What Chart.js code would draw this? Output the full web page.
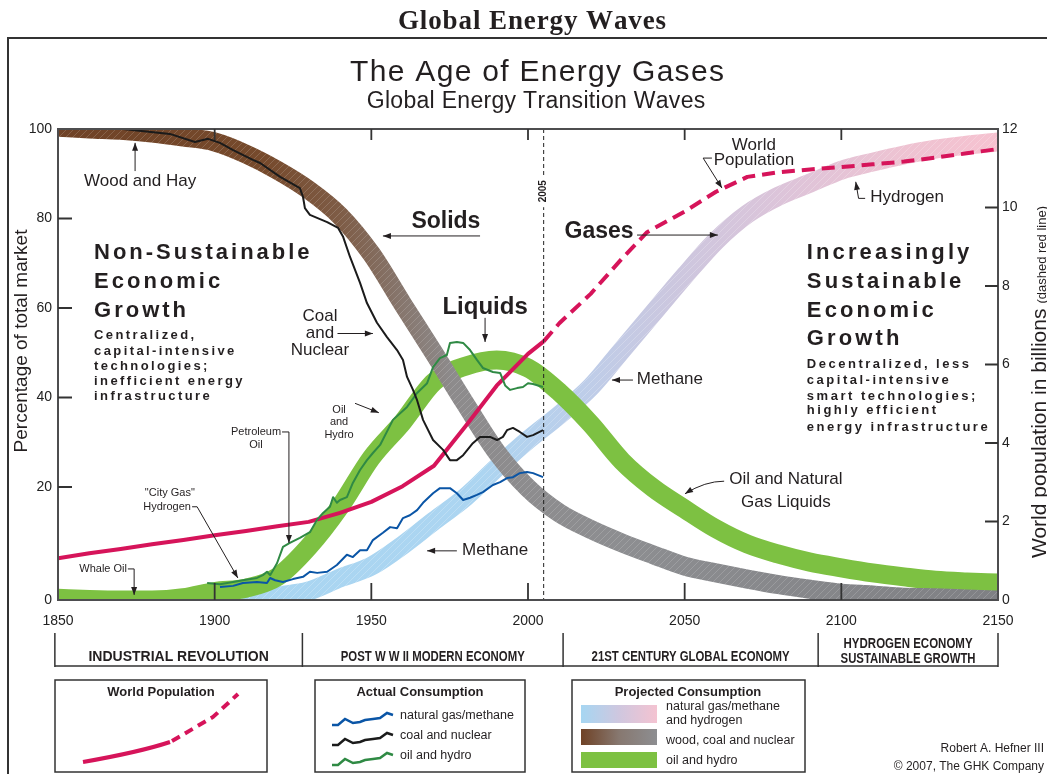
<!DOCTYPE html>
<html>
<head>
<meta charset="utf-8">
<title>Global Energy Waves</title>
<script src="https://cdn.jsdelivr.net/npm/chart.js@4.4.1/dist/chart.umd.min.js"></script>
<style>
  html, body { margin: 0; padding: 0; background: #fff; }
  #wrap { position: relative; width: 1047px; height: 774px; }
</style>
</head>
<body>
<div id="wrap"><canvas id="energyChart"></canvas></div>
<script>
// Projected waves, read every ten years (percentage of total market)
var bandYears = [1850, 1860, 1870, 1880, 1890, 1900, 1910, 1920, 1930, 1940, 1950, 1960, 1970, 1980, 1990, 2000,
                 2010, 2020, 2030, 2040, 2050, 2060, 2070, 2080, 2090, 2100, 2110, 2120, 2130, 2140, 2150];
var solidsBand = [100.4, 100.0, 99.7, 99.1, 98.2, 97.1, 94.4, 90.8, 86.4, 80.6, 72.1, 60.9, 49.9, 38.6, 27.8, 19.8,
                  15.4, 12.5, 10.1, 8.0, 6.0, 4.8, 3.7, 2.7, 1.9, 1.2, 0.9, 0.5, 0.4, 0.2, 0.0];
var liquidsBand = [0.3, 0.1, 0.0, 0.0, 0.4, 1.5, 2.1, 4.1, 9.4, 16.5, 26.5, 34.5, 43.5, 47.0, 48.4, 46.6,
                   41.2, 34.1, 25.8, 19.8, 16.1, 12.6, 9.9, 8.1, 6.7, 5.7, 4.8, 4.1, 3.5, 3.2, 3.0];
var gasesBand = [null, null, null, null, null, -1.0, -0.2, 0.7, 1.6, 3.9, 6.0, 9.7, 14.0, 18.2, 24.3, 30.5,
                 36.1, 42.3, 50.6, 58.9, 67.2, 75.0, 81.0, 85.0, 87.9, 90.8, 92.6, 94.2, 95.5, 96.4, 97.1];

// World population, billions (right axis)
var popYears = [1850, 1860, 1870, 1880, 1890, 1900, 1910, 1920, 1930, 1940, 1950, 1960, 1970, 1980, 1990, 2000, 2005];
var popHistory = [1.06, 1.19, 1.30, 1.42, 1.53, 1.65, 1.76, 1.88, 1.99, 2.22, 2.50, 2.90, 3.42, 4.42, 5.46, 6.27, 6.59];
var projYears = [2005, 2010, 2020, 2030, 2038, 2050, 2060, 2070, 2080, 2090, 2100, 2110, 2120, 2130, 2140, 2150];
var popProjection = [6.59, 7.05, 7.80, 8.70, 9.37, 9.90, 10.40, 10.78, 10.90, 10.97, 11.03, 11.10, 11.17, 11.27, 11.38, 11.49];

// Actual consumption (percentage of total market)
var coalYears = [1870.7, 1885.7, 1893.7, 1897.9, 1901.7, 1905.9, 1912.2, 1914.5, 1920.9, 1927.2, 1928.2, 1928.8, 1930.4,
                 1935.9, 1939.4, 1941.0, 1943.2, 1946.4, 1948.6, 1951.8, 1955.0, 1958.2, 1960.1, 1961.4, 1963.3, 1964.6,
                 1966.5, 1969.7, 1972.9, 1975.1, 1977.3, 1979.3, 1982.4, 1984.7, 1987.9, 1990.1, 1992.0, 1993.3, 1995.2,
                 1997.4, 1999.7, 2001.6, 2004.8];
var coalShare = [100.0, 98.9, 97.1, 97.8, 96.9, 95.3, 93.1, 92.4, 89.3, 86.8, 84.8, 82.3, 80.8,
                 79.2, 77.9, 75.9, 71.4, 65.6, 61.1, 56.7, 53.5, 50.6, 48.4, 44.6, 41.7, 39.4,
                 35.0, 30.5, 28.3, 26.0, 26.0, 27.1, 29.8, 31.2, 31.2, 30.5, 31.2, 32.7, 33.2,
                 32.3, 31.2, 31.6, 32.7];
var oilYears = [1897.6, 1901.7, 1905.9, 1909.0, 1913.5, 1915.4, 1916.7, 1917.7, 1919.9, 1921.8, 1924.0, 1927.2, 1930.4,
                1932.7, 1934.6, 1936.8, 1937.8, 1939.0, 1940.0, 1942.2, 1944.1, 1946.4, 1948.6, 1950.5, 1952.8, 1956.9,
                1961.4, 1964.6, 1967.8, 1969.7, 1971.9, 1974.1, 1975.1, 1977.3, 1979.3, 1981.5, 1983.7, 1985.6, 1988.8,
                1991.1, 1992.7, 1994.3, 1996.5, 1998.4, 2000.0, 2001.6, 2004.8];
var oilShare = [3.0, 2.8, 3.2, 3.5, 3.9, 4.4, 5.0, 4.4, 6.5, 9.4, 10.1, 11.0, 12.0,
                14.2, 15.4, 16.5, 18.2, 17.2, 17.7, 18.2, 20.9, 23.8, 26.0, 27.6, 29.4, 35.0,
                37.9, 41.0, 43.2, 46.8, 48.8, 49.5, 52.2, 52.4, 52.2, 50.6, 48.4, 46.6, 45.7,
                45.5, 42.7, 41.7, 42.1, 42.35, 43.2, 43.0, 42.35];
var gasYears = [1901.7, 1905.9, 1909.0, 1913.5, 1916.7, 1917.7, 1919.3, 1921.8, 1925.0, 1928.2, 1930.4, 1932.7, 1935.9,
                1939.0, 1942.2, 1944.1, 1946.4, 1948.6, 1950.5, 1953.7, 1956.0, 1958.2, 1960.1, 1962.3, 1964.6, 1966.5,
                1969.7, 1971.9, 1975.1, 1977.3, 1979.3, 1981.5, 1983.7, 1985.6, 1988.8, 1991.1, 1993.3, 1995.2, 1997.4,
                1999.7, 2001.6, 2004.8];
var gasShare = [2.3, 2.5, 3.0, 3.2, 3.0, 3.9, 3.5, 3.2, 3.7, 4.1, 5.0, 4.8, 5.0,
                6.2, 8.0, 7.6, 8.8, 8.8, 10.6, 11.9, 12.9, 12.7, 14.5, 15.0, 15.9, 17.2,
                18.9, 19.8, 19.8, 18.9, 17.7, 18.1, 18.6, 19.1, 20.45, 21.1, 22.0, 22.2, 23.1,
                23.35, 23.1, 22.2];

var eraNames = ['INDUSTRIAL REVOLUTION', 'POST W W II MODERN ECONOMY', '21ST CENTURY GLOBAL ECONOMY',
                'HYDROGEN ECONOMY|SUSTAINABLE GROWTH'];
var eraBounds = [1849, 1928, 2011.2, 2092.6, 2150];

var INK = '#231f20';
var SANS = '"Liberation Sans", Arial, Helvetica, sans-serif';
var RED = '#d6145a';

// the left axis of the original gives more room to 0-20 than to the other steps
var LOW_SHARE = 113 / 471;
class SplitScale extends Chart.LinearScale {
  getPixelForValue(value) {
    if (value === null || value === undefined || isNaN(value)) return NaN;
    var d = value < 20 ? value / 20 * LOW_SHARE : LOW_SHARE + (value - 20) / 80 * (1 - LOW_SHARE);
    return this.getPixelForDecimal(d);
  }
  getValueForPixel(pixel) {
    var d = this.getDecimalForPixel(pixel);
    return d < LOW_SHARE ? d / LOW_SHARE * 20 : 20 + (d - LOW_SHARE) / (1 - LOW_SHARE) * 80;
  }
}
SplitScale.id = 'split';
SplitScale.defaults = Chart.LinearScale.defaults;
Chart.register(SplitScale);

function pairs(xs, ys) {
  var out = [];
  for (var i = 0; i < xs.length; i++) {
    if (ys[i] !== null) out.push({ x: xs[i], y: ys[i] });
  }
  return out;
}

var SOLIDS_STOPS = [[0, '#6f4226'], [0.22, '#764a2c'], [0.3, '#7e5c46'], [0.37, '#877870'], [0.42, '#8d8b8c'], [0.6, '#8d8e91'], [1, '#7f8084']];
var GASES_STOPS = [[0, '#a6d6f2'], [0.45, '#acd5f1'], [0.55, '#bcceea'], [0.65, '#cbc7df'], [0.78, '#dec4d9'], [0.9, '#eec3d2'], [1, '#f6c2d0']];

var paintCache = {};
function bandPaint(chart, key, stops, hatch) {
  var a = chart.chartArea;
  var id = [a.left, a.right, chart.width, chart.height].join(',');
  if (paintCache[key] && paintCache[key].id === id) return paintCache[key].pat;
  var off = document.createElement('canvas');
  off.width = chart.width; off.height = chart.height;
  var g = off.getContext('2d');
  var grad = g.createLinearGradient(a.left, 0, a.right, 0);
  stops.forEach(function (s) { grad.addColorStop(s[0], s[1]); });
  g.fillStyle = grad;
  g.fillRect(0, 0, off.width, off.height);
  if (hatch) {
    g.strokeStyle = hatch; g.lineWidth = 1;
    for (var x = -off.height; x < off.width; x += 7) {
      g.beginPath(); g.moveTo(x, off.height); g.lineTo(x + off.height, 0); g.stroke();
    }
  }
  var pat = chart.ctx.createPattern(off, 'no-repeat');
  paintCache[key] = { id: id, pat: pat };
  return pat;
}

function arrow(ctx, pts, curved) {
  ctx.beginPath();
  ctx.moveTo(pts[0][0], pts[0][1]);
  if (curved) ctx.quadraticCurveTo(pts[1][0], pts[1][1], pts[2][0], pts[2][1]);
  else for (var i = 1; i < pts.length; i++) ctx.lineTo(pts[i][0], pts[i][1]);
  ctx.stroke();
  var e = pts[pts.length - 1], s = pts[pts.length - 2];
  var ang = Math.atan2(e[1] - s[1], e[0] - s[0]);
  var c = Math.cos(ang), n = Math.sin(ang);
  ctx.beginPath();
  ctx.moveTo(e[0], e[1]);
  ctx.lineTo(e[0] - 8 * c + 3 * n, e[1] - 8 * n - 3 * c);
  ctx.lineTo(e[0] - 8 * c - 3 * n, e[1] - 8 * n + 3 * c);
  ctx.closePath();
  ctx.fill();
}

function spaced(ctx, text, x, y, gap) {
  ctx.textAlign = 'left';
  for (var i = 0; i < text.length; i++) {
    ctx.fillText(text[i], x, y);
    x += ctx.measureText(text[i]).width + gap;
  }
}

function spacedCentered(ctx, text, cx, y, gap) {
  var w = 0;
  for (var i = 0; i < text.length; i++) w += ctx.measureText(text[i]).width;
  w += gap * (text.length - 1);
  spaced(ctx, text, cx - w / 2, y, gap);
}

// condensed caption squeezed to a given width
function narrow(ctx, text, cx, y, width) {
  var w = ctx.measureText(text).width;
  ctx.save();
  ctx.translate(cx, y);
  ctx.scale(Math.min(1, width / w), 1);
  ctx.textAlign = 'center';
  ctx.fillText(text, 0, 0);
  ctx.restore();
}

function label(ctx, text, p, font, align) {
  ctx.font = font;
  ctx.textAlign = align || 'center';
  ctx.fillText(text, p[0], p[1]);
}

function wavy(ctx, x0, y0, color) {
  var dx = [0, 6, 13, 21, 28, 33, 41, 48, 55, 61];
  var dy = [0, 0, -6, -2, -3, -5, -6, -7, -12, -10];
  ctx.strokeStyle = color; ctx.lineWidth = 2.5;
  ctx.beginPath();
  for (var i = 0; i < dx.length; i++) {
    if (i === 0) ctx.moveTo(x0 + dx[i], y0 + dy[i]); else ctx.lineTo(x0 + dx[i], y0 + dy[i]);
  }
  ctx.stroke();
}

var decor = {
  id: 'decor',
  afterDatasetsDraw: function (chart) {
    var ctx = chart.ctx, a = chart.chartArea;
    var sx = chart.scales.x, sy = chart.scales.y, sr = chart.scales.y2;
    ctx.save();
    // 2005 marker
    var x05 = sx.getPixelForValue(2005);
    ctx.strokeStyle = '#222'; ctx.lineWidth = 1; ctx.setLineDash([4, 3]);
    ctx.beginPath(); ctx.moveTo(x05, a.top); ctx.lineTo(x05, a.bottom); ctx.stroke();
    ctx.setLineDash([]);
    var y05 = sy.getPixelForValue(86.1);
    ctx.fillStyle = '#fff'; ctx.fillRect(x05 - 6, y05 - 16, 12, 32);
    ctx.translate(x05, y05); ctx.rotate(-Math.PI / 2);
    ctx.fillStyle = INK; ctx.font = 'bold 10px ' + SANS;
    ctx.textAlign = 'center'; ctx.textBaseline = 'middle';
    ctx.fillText('2005', 0, 0);
    ctx.restore();

    // plot frame and inward ticks
    ctx.save();
    ctx.strokeStyle = '#4d4d4f'; ctx.lineWidth = 2;
    ctx.strokeRect(a.left, a.top, a.right - a.left, a.bottom - a.top);
    ctx.strokeStyle = '#333'; ctx.lineWidth = 1.8;
    ctx.beginPath();
    sx.ticks.forEach(function (t) {
      if (t.value <= sx.min || t.value >= sx.max) return;
      var p = sx.getPixelForValue(t.value);
      ctx.moveTo(p, a.bottom); ctx.lineTo(p, a.bottom - 17);
      ctx.moveTo(p, a.top); ctx.lineTo(p, a.top + 11);
    });
    sy.ticks.forEach(function (t) {
      if (t.value <= sy.min || t.value >= sy.max) return;
      var p = sy.getPixelForValue(t.value);
      ctx.moveTo(a.left, p); ctx.lineTo(a.left + 14, p);
    });
    sr.ticks.forEach(function (t) {
      if (t.value <= sr.min || t.value >= sr.max) return;
      var p = sr.getPixelForValue(t.value);
      ctx.moveTo(a.right - 13, p); ctx.lineTo(a.right, p);
    });
    ctx.stroke();
    ctx.restore();
  },
  afterDraw: function (chart) {
    var ctx = chart.ctx, a = chart.chartArea;
    var sx = chart.scales.x, sy = chart.scales.y;
    var P = function (yr, v) { return [sx.getPixelForValue(yr), sy.getPixelForValue(v)]; };
    ctx.save();
    ctx.fillStyle = INK; ctx.strokeStyle = INK; ctx.textBaseline = 'middle';

    // headings and outer frame
    ctx.font = 'bold 27px "Liberation Serif", "Times New Roman", serif';
    spacedCentered(ctx, 'Global Energy Waves', 532, 22, 0.9);
    ctx.lineWidth = 2; ctx.strokeStyle = '#333';
    ctx.beginPath(); ctx.moveTo(1047, 38); ctx.lineTo(8, 38); ctx.lineTo(8, 774); ctx.stroke();
    ctx.textBaseline = 'alphabetic';
    ctx.font = '30px ' + SANS;
    spacedCentered(ctx, 'The Age of Energy Gases', 537, 81, 1.3);
    ctx.font = '23px ' + SANS;
    spacedCentered(ctx, 'Global Energy Transition Waves', 536, 108, 0.3);
    ctx.textBaseline = 'middle';

    // axis titles
    ctx.save();
    ctx.translate(22, 341); ctx.rotate(-Math.PI / 2);
    label(ctx, 'Percentage of total market', [0, 0], '19px ' + SANS);
    ctx.restore();
    ctx.save();
    ctx.translate(1038, 558); ctx.rotate(-Math.PI / 2);
    ctx.textBaseline = 'alphabetic';
    ctx.font = '21px ' + SANS; ctx.textAlign = 'left';
    ctx.fillText('World population in billions', 0, 7.5);
    var w1 = ctx.measureText('World population in billions').width;
    ctx.font = '13px ' + SANS;
    ctx.fillText('(dashed red line)', w1 + 5, 7.5);
    ctx.restore();

    // callouts inside the plot
    ctx.strokeStyle = INK; ctx.lineWidth = 1;
    var f17 = '17px ' + SANS, f11 = '11px ' + SANS;
    label(ctx, 'Wood and Hay', P(1876.2, 88.4), f17);
    arrow(ctx, [P(1874.6, 90.6), P(1874.6, 96.9)]);

    ctx.font = 'bold 22px ' + SANS;
    var xl = P(1861.5, 0)[0];
    spaced(ctx, 'Non-Sustainable', xl, P(0, 72.3)[1], 3.0);
    spaced(ctx, 'Economic', xl, P(0, 65.8)[1], 3.0);
    spaced(ctx, 'Growth', xl, P(0, 59.3)[1], 3.0);
    ctx.font = 'bold 13px ' + SANS;
    spaced(ctx, 'Centralized,', xl, P(0, 53.97)[1], 2.4);
    spaced(ctx, 'capital-intensive', xl, P(0, 50.4)[1], 2.4);
    spaced(ctx, 'technologies;', xl, P(0, 47.0)[1], 2.4);
    spaced(ctx, 'inefficient energy', xl, P(0, 43.7)[1], 2.4);
    spaced(ctx, 'infrastructure', xl, P(0, 40.3)[1], 2.4);

    var xr = P(2089.0, 0)[0];
    ctx.font = 'bold 22px ' + SANS;
    spaced(ctx, 'Increasingly', xr, P(0, 72.3)[1], 3.1);
    spaced(ctx, 'Sustainable', xr, P(0, 65.8)[1], 3.1);
    spaced(ctx, 'Economic', xr, P(0, 59.3)[1], 3.1);
    spaced(ctx, 'Growth', xr, P(0, 53.1)[1], 3.1);
    ctx.font = 'bold 13px ' + SANS;
    spaced(ctx, 'Decentralized, less', xr, P(0, 47.3)[1], 2.5);
    spaced(ctx, 'capital-intensive', xr, P(0, 43.9)[1], 2.5);
    spaced(ctx, 'smart technologies;', xr, P(0, 40.3)[1], 2.5);
    spaced(ctx, 'highly efficient', xr, P(0, 37.2)[1], 2.5);
    spaced(ctx, 'energy infrastructure', xr, P(0, 33.4)[1], 2.5);

    label(ctx, 'Coal', P(1933.6, 58.2), f17);
    label(ctx, 'and', P(1933.6, 54.4), f17);
    label(ctx, 'Nuclear', P(1933.6, 50.6), f17);
    arrow(ctx, [P(1939.2, 54.3), P(1950.5, 54.3)]);

    label(ctx, 'Solids', P(1973.8, 79.2), 'bold 23px ' + SANS);
    arrow(ctx, [P(1984.7, 76.1), P(1953.7, 76.1)]);
    label(ctx, 'Liquids', P(1986.3, 60.2), 'bold 24px ' + SANS);
    arrow(ctx, [P(1986.3, 57.8), P(1986.3, 52.4)]);
    label(ctx, 'Gases', P(2022.7, 77.0), 'bold 23px ' + SANS);
    arrow(ctx, [P(2034.8, 76.3), P(2060.6, 76.3)]);

    label(ctx, 'World', P(2072.1, 96.4), f17);
    label(ctx, 'Population', P(2072.1, 92.9), f17);
    arrow(ctx, [P(2058.7, 93.5), P(2055.9, 93.5), P(2061.9, 86.8)]);
    label(ctx, 'Hydrogen', P(2121.0, 84.8), f17);
    arrow(ctx, [P(2107.6, 84.5), P(2105.5, 84.5), P(2104.6, 88.2)]);
    label(ctx, 'Methane', P(2045.3, 44.1), f17);
    arrow(ctx, [P(2033.5, 43.9), P(2026.8, 43.9)]);
    label(ctx, 'Oil and Natural', P(2082.3, 21.8), f17);
    label(ctx, 'Gas Liquids', P(2082.3, 17.3), f17);
    arrow(ctx, [P(2062.6, 21.3), P(2056.5, 21.3), P(2050.1, 18.8)], true);
    label(ctx, 'Methane', P(1989.5, 8.8), f17);
    arrow(ctx, [P(1977.3, 8.7), P(1967.8, 8.7)]);

    label(ctx, '"City Gas"', P(1885.7, 18.9), f11);
    label(ctx, 'Hydrogen', P(1884.8, 16.5), f11);
    arrow(ctx, [P(1892.8, 16.5), P(1894.4, 16.5), P(1907.4, 3.9)]);
    label(ctx, 'Whale Oil', P(1864.4, 5.5), f11);
    arrow(ctx, [P(1872.3, 5.5), P(1874.3, 5.5), P(1874.3, 0.9)]);
    label(ctx, 'Petroleum', P(1913.2, 32.3), f11);
    label(ctx, 'Oil', P(1913.2, 29.4), f11);
    arrow(ctx, [P(1921.5, 32.3), P(1923.7, 32.3), P(1923.7, 10.1)]);
    label(ctx, 'Oil', P(1939.7, 37.2), f11);
    label(ctx, 'and', P(1939.7, 34.5), f11);
    label(ctx, 'Hydro', P(1939.7, 31.6), f11);
    arrow(ctx, [P(1944.8, 38.7), P(1952.4, 36.6)]);

    // era bar under the axis
    ctx.strokeStyle = '#333'; ctx.lineWidth = 1.5;
    var ex = eraBounds.map(function (yr) { return sx.getPixelForValue(yr); });
    ctx.beginPath();
    ex.forEach(function (x) { ctx.moveTo(x, 633); ctx.lineTo(x, 667); });
    ctx.moveTo(ex[0], 666); ctx.lineTo(ex[ex.length - 1], 666);
    ctx.stroke();
    ctx.font = 'bold 14px ' + SANS;
    var eraWidths = [183, 184, 198, 135];
    eraNames.forEach(function (name, i) {
      var cx = (ex[i] + ex[i + 1]) / 2;
      var parts = name.split('|');
      if (parts.length === 1) narrow(ctx, name, cx, 657, eraWidths[i]);
      else { narrow(ctx, parts[0], cx, 644, eraWidths[i] - 6); narrow(ctx, parts[1], cx, 659, eraWidths[i]); }
    });

    // legend boxes
    ctx.strokeStyle = '#333'; ctx.lineWidth = 1.5;
    ctx.strokeRect(55, 680, 212, 92);
    ctx.strokeRect(315, 680, 210, 92);
    ctx.strokeRect(572, 680, 233, 92);
    ctx.font = 'bold 13px ' + SANS; ctx.textAlign = 'center';
    ctx.fillText('World Population', 161, 692);
    ctx.fillText('Actual Consumption', 420, 692);
    ctx.fillText('Projected Consumption', 688, 692);

    ctx.strokeStyle = RED; ctx.lineWidth = 4;
    ctx.beginPath(); ctx.moveTo(83, 762); ctx.quadraticCurveTo(140, 752, 170, 742); ctx.stroke();
    ctx.setLineDash([9, 6]);
    ctx.beginPath(); ctx.moveTo(172, 741); ctx.lineTo(213, 717); ctx.lineTo(238, 694); ctx.stroke();
    ctx.setLineDash([]);

    wavy(ctx, 332, 725, '#0a55a6');
    wavy(ctx, 332, 745, '#1b1b1b');
    wavy(ctx, 332, 765, '#2f8a44');
    ctx.fillStyle = INK; ctx.font = '12.5px ' + SANS; ctx.textAlign = 'left';
    ctx.fillText('natural gas/methane', 400, 716);
    ctx.fillText('coal and nuclear', 400, 736);
    ctx.fillText('oil and hydro', 400, 756);

    var g1 = ctx.createLinearGradient(581, 0, 657, 0);
    g1.addColorStop(0, '#a6d6f2'); g1.addColorStop(0.5, '#cfc7df'); g1.addColorStop(1, '#f4c3d1');
    ctx.fillStyle = g1; ctx.fillRect(581, 705, 76, 18);
    var g2 = ctx.createLinearGradient(581, 0, 657, 0);
    g2.addColorStop(0, '#6f4226'); g2.addColorStop(0.5, '#877870'); g2.addColorStop(1, '#8d8e91');
    ctx.fillStyle = g2; ctx.fillRect(581, 729, 76, 16);
    ctx.fillStyle = '#7dc142'; ctx.fillRect(581, 752, 76, 16);
    ctx.fillStyle = INK;
    ctx.fillText('natural gas/methane', 666, 707);
    ctx.fillText('and hydrogen', 666, 721);
    ctx.fillText('wood, coal and nuclear', 666, 741);
    ctx.fillText('oil and hydro', 666, 761);

    ctx.font = '12px ' + SANS; ctx.textAlign = 'right';
    ctx.fillText('Robert A. Hefner III', 1044, 749);
    ctx.fillText('\u00a9 2007, The GHK Company', 1044, 767);
    ctx.restore();
  }
};

var tickFont = { family: SANS, size: 14 };

var ctx = document.getElementById('energyChart').getContext('2d');
var energyChart = new Chart(ctx, {
  type: 'line',
  data: {
    datasets: [
      { label: 'coal and nuclear', data: pairs(coalYears, coalShare), yAxisID: 'y',
        borderColor: '#1b1b1b', borderWidth: 2, tension: 0 },
      { label: 'oil and hydro', data: pairs(oilYears, oilShare), yAxisID: 'y',
        borderColor: '#2f8a44', borderWidth: 2, tension: 0 },
      { label: 'natural gas/methane', data: pairs(gasYears, gasShare), yAxisID: 'y',
        borderColor: '#0a55a6', borderWidth: 2, tension: 0 },
      { label: 'World population', data: pairs(popYears, popHistory), yAxisID: 'y2',
        borderColor: RED, borderWidth: 4, tension: 0 },
      { label: 'World population (projected)', data: pairs(projYears, popProjection), yAxisID: 'y2',
        borderColor: RED, borderWidth: 4, borderDash: [13, 7], tension: 0 },
      { label: 'wood, coal and nuclear', data: pairs(bandYears, solidsBand), yAxisID: 'y',
        borderWidth: 19, cubicInterpolationMode: 'monotone',
        borderColor: function (c) {
          if (!c.chart.chartArea) return '#8d8b8c';
          return bandPaint(c.chart, 'solids', SOLIDS_STOPS, 'rgba(255,255,255,0.16)');
        } },
      { label: 'oil and hydro (projected)', data: pairs(bandYears, liquidsBand), yAxisID: 'y',
        borderWidth: 19, cubicInterpolationMode: 'monotone', borderColor: '#7dc142' },
      { label: 'natural gas/methane and hydrogen', data: pairs(bandYears, gasesBand), yAxisID: 'y',
        borderWidth: 19, cubicInterpolationMode: 'monotone',
        borderColor: function (c) {
          if (!c.chart.chartArea) return '#bccde8';
          return bandPaint(c.chart, 'gases', GASES_STOPS, 'rgba(255,255,255,0.22)');
        } }
    ].map(function (d) {
      d.pointRadius = 0; d.fill = false; d.clip = 0;
      d.borderCapStyle = 'butt'; d.borderJoinStyle = 'round';
      return d;
    })
  },
  options: {
    responsive: true,
    maintainAspectRatio: false,
    animation: false,
    layout: { padding: { top: 129, left: 0, right: 0, bottom: 0 } },
    plugins: { legend: { display: false }, tooltip: { enabled: false }, title: { display: false } },
    scales: {
      x: {
        type: 'linear', min: 1850, max: 2150,
        ticks: { stepSize: 50, color: '#222', font: tickFont, padding: 13, maxRotation: 0,
                 callback: function (v) { return String(v); } },
        grid: { display: false, drawTicks: false }, border: { display: false },
        afterFit: function (s) { s.height = 174; }
      },
      y: {
        type: 'split', position: 'left', min: 0, max: 100,
        ticks: { stepSize: 20, color: '#222', font: tickFont, padding: 6 },
        grid: { display: false, drawTicks: false }, border: { display: false },
        afterFit: function (s) { s.width = 58; }
      },
      y2: {
        type: 'linear', position: 'right', min: 0, max: 12,
        ticks: { stepSize: 2, color: '#222', font: tickFont, padding: 4 },
        grid: { display: false, drawTicks: false }, border: { display: false },
        afterFit: function (s) { s.width = 49; }
      }
    }
  },
  plugins: [decor]
});
</script>
</body>
</html>
